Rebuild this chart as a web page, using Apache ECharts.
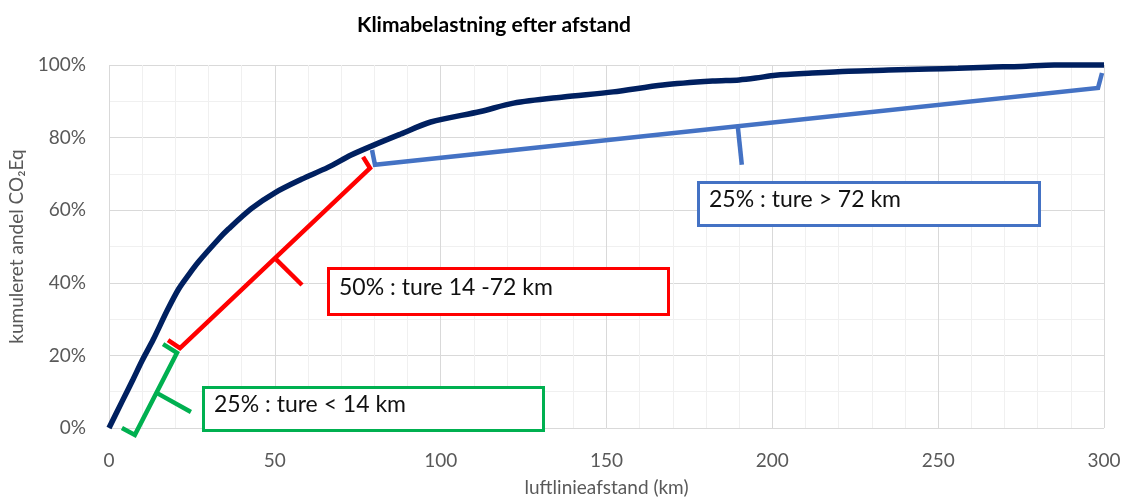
<!DOCTYPE html>
<html>
<head>
<meta charset="utf-8">
<script src="https://cdn.jsdelivr.net/npm/echarts@6/dist/echarts.min.js"></script>
<style>
html,body{margin:0;padding:0;background:#fff;}
#c{width:1125px;height:499px;}
</style>
</head>
<body>
<div id="c"></div>
<script>
// Cumulative CO2Eq share (%) vs. distance (km)
const distanceKm = [0, 4, 7.2, 10, 13.3, 17.5, 21, 24, 27, 33, 36, 43, 50, 58, 66, 73, 80, 88, 97, 112, 122, 137, 152, 167, 182, 190, 195, 201, 212, 223, 235, 247, 256, 265, 275, 285, 300];
const cumShare   = [0, 7.4, 13.3, 18.6, 24.3, 32.3, 38.3, 42.2, 45.8, 52, 54.8, 60.5, 64.8, 68.5, 71.8, 75.2, 78, 81, 84.3, 87.2, 89.5, 91.2, 92.6, 94.5, 95.6, 95.9, 96.4, 97.2, 97.8, 98.3, 98.6, 98.9, 99.1, 99.4, 99.6, 100, 100];

// Bracket annotations (data coords: km, %)
const greenBracket = [[3.9, 0], [7.8, -1.9], [20.5, 20.7], [16.3, 23.1]];
const greenTick    = [[14.5, 9.6], [24.7, 4.4]];
const redBracket   = [[17.8, 24.2], [21.4, 22.0], [78.7, 71.6], [76.6, 74.7]];
const redTick      = [[50.0, 46.8], [58.2, 39.4]];
const blueBracket  = [[79.3, 76.6], [80.2, 72.5], [298.2, 93.7], [299.4, 97.8]];
const blueTick     = [[189.6, 82.9], [190.8, 72.5]];

const labelGreen = '25% : ture < 14 km';
const labelRed   = '50% : ture 14 -72 km';
const labelBlue  = '25% : ture > 72 km';

const titleText = 'Klimabelastning efter afstand';
const xName = 'luftlinieafstand (km)';
const yName = 'kumuleret andel CO\u2082Eq';

const FONT = 'Lato, "Open Sans", sans-serif';
const GREEN = '#00B050', RED = '#FF0000', BLUE = '#4472C4', NAVY = '#002060';

const chart = echarts.init(document.getElementById('c'));

function bracketSeries(data, color) {
  return {
    type: 'line', data: data, symbol: 'none', clip: false, silent: true,
    lineStyle: { color: color, width: 4.5, cap: 'butt', join: 'miter', type: 'solid' }, z: 3
  };
}

function box(x, y, w, h, color, text) {
  return [
    { type: 'rect', left: x, top: y, z: 100,
      shape: { x: 0, y: 0, width: w, height: h },
      style: { fill: '#fff', stroke: color, lineWidth: 3, lineDash: null } },
    { type: 'text', left: x + 12, top: y + h / 2 - 14, z: 101,
      style: { text: text, font: '23px ' + FONT, fill: '#111' } }
  ];
}

chart.setOption({
  animation: false,
  backgroundColor: '#fff',
  title: {
    text: titleText, left: 352, top: 10,
    textStyle: { fontFamily: FONT, fontWeight: 'bold', fontSize: 21, color: '#000' }
  },
  grid: { left: 109, right: 21, top: 65, bottom: 71, containLabel: false, outerBoundsMode: 'none' },
  xAxis: {
    type: 'value', min: 0, max: 300, interval: 50,
    name: xName, nameLocation: 'middle', nameGap: 50,
    nameTextStyle: { fontFamily: FONT, fontSize: 19, color: '#595959' },
    axisLine: { show: false }, axisTick: { show: false },
    axisLabel: { fontFamily: FONT, fontSize: 19, color: '#595959', margin: 23 },
    splitLine: { show: true, lineStyle: { color: '#d9d9d9', width: 1 } },
    minorTick: { show: false, splitNumber: 5 },
    minorSplitLine: { show: true, lineStyle: { color: '#f0f0f0', width: 1 } }
  },
  yAxis: {
    type: 'value', min: 0, max: 100, interval: 20,
    name: yName, nameLocation: 'middle', nameGap: 78, nameRotate: 90,
    nameTextStyle: { fontFamily: FONT, fontSize: 19, color: '#595959' },
    axisLine: { show: false }, axisTick: { show: false },
    axisLabel: { fontFamily: FONT, fontSize: 19, color: '#595959', margin: 23, formatter: '{value}%' },
    splitLine: { show: true, lineStyle: { color: '#d9d9d9', width: 1 } },
    minorTick: { show: false, splitNumber: 2 },
    minorSplitLine: { show: true, lineStyle: { color: '#f0f0f0', width: 1 } }
  },
  series: [
    {
      type: 'line', data: distanceKm.map((d, i) => [d, cumShare[i]]),
      symbol: 'none', smooth: 0.3, clip: false,
      lineStyle: { color: NAVY, width: 5.5 }, z: 4
    },
    bracketSeries(greenBracket, GREEN),
    bracketSeries(greenTick, GREEN),
    bracketSeries(redBracket, RED),
    bracketSeries(redTick, RED),
    bracketSeries(blueBracket, BLUE),
    bracketSeries(blueTick, BLUE)
  ],
  graphic: [].concat(
    box(202, 386, 340, 43, GREEN, labelGreen),
    box(327, 267, 340, 46, RED, labelRed),
    box(697, 181, 341, 43, BLUE, labelBlue)
  )
});
</script>
</body>
</html>
